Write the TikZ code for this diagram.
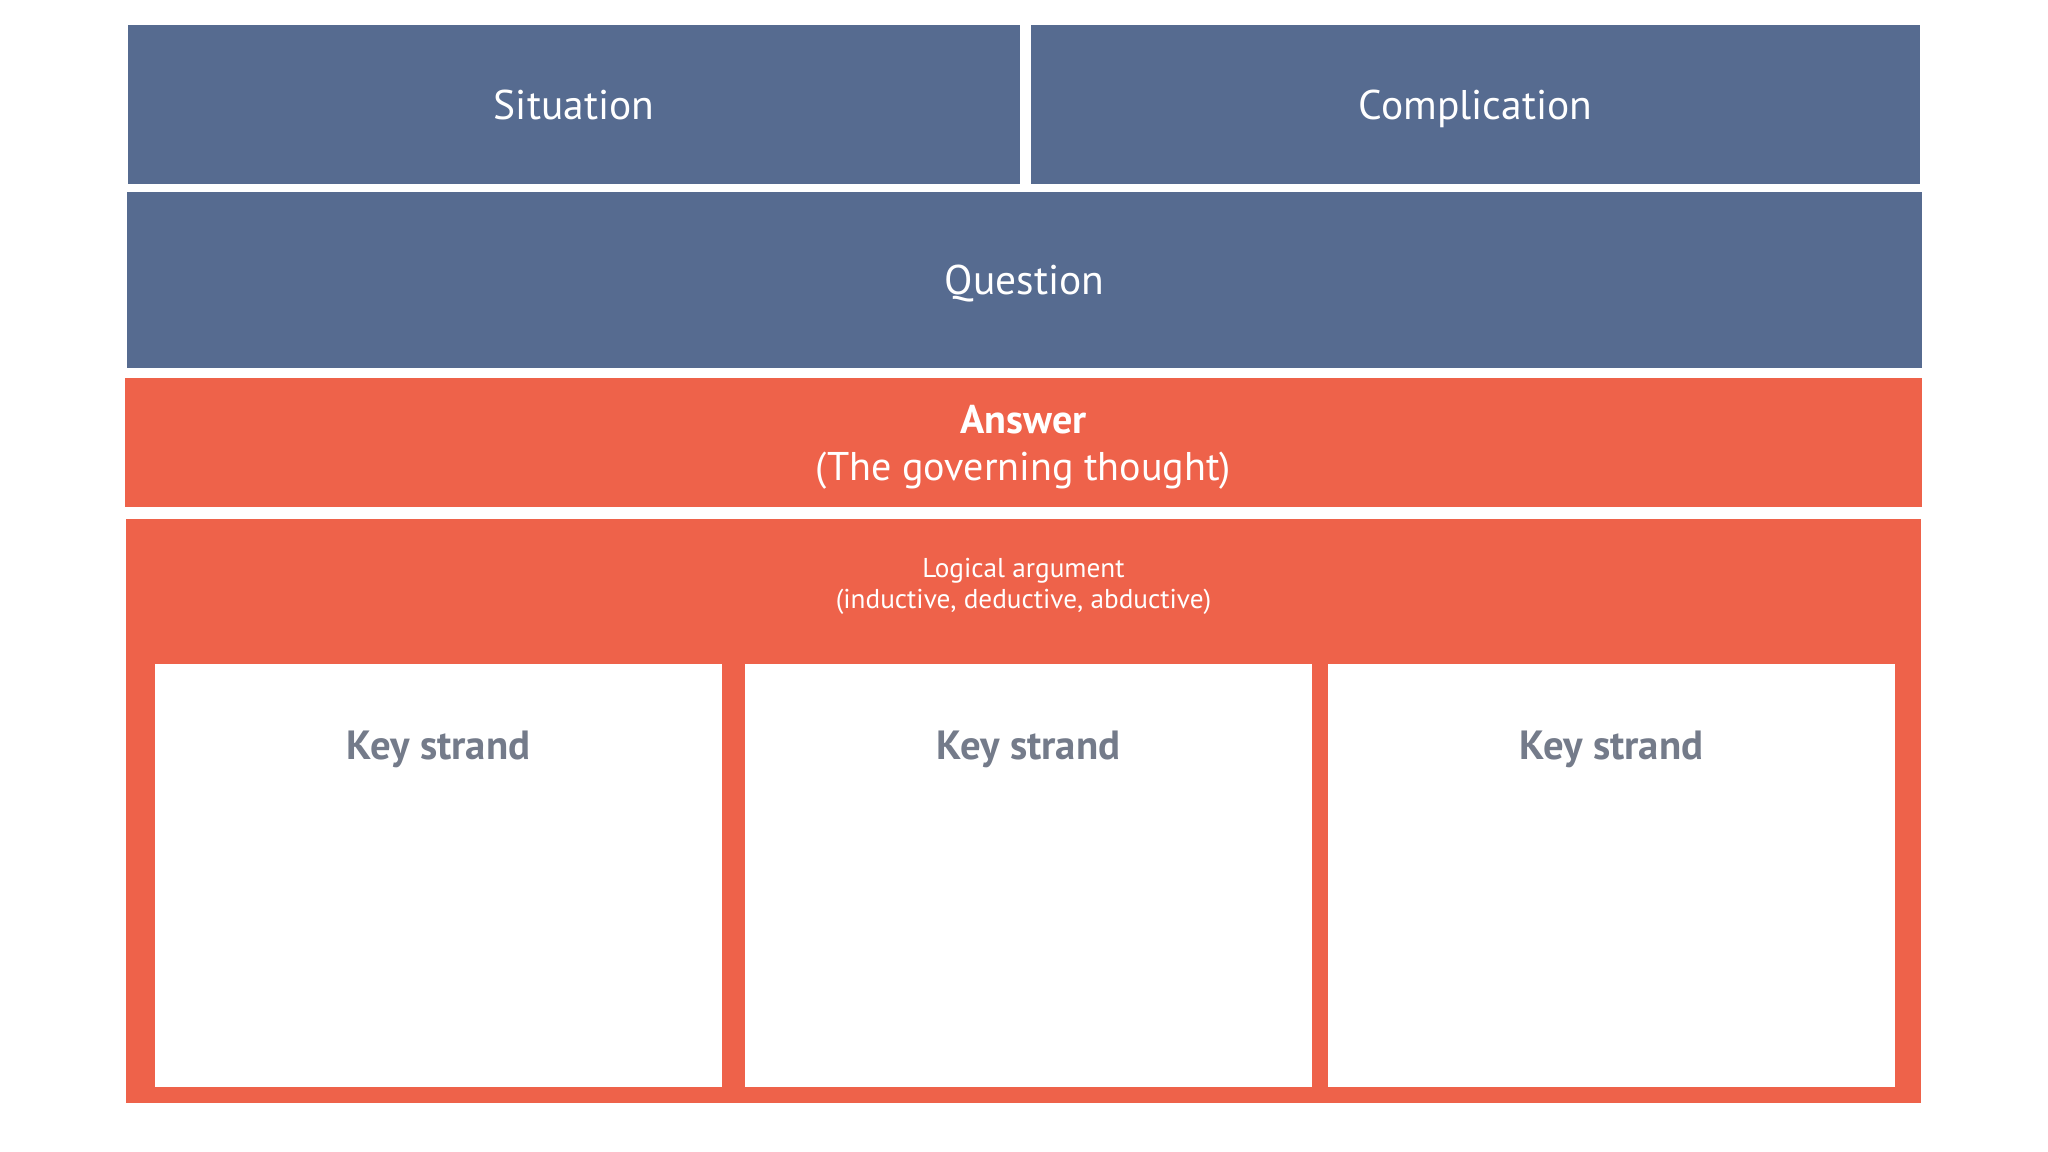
\documentclass[tikz,border=0pt]{standalone}
\usepackage{fontspec}
\setmainfont{PT Sans}
\definecolor{scqblue}{HTML}{566B90}
\definecolor{answerred}{HTML}{EE624A}
\definecolor{strandgrey}{HTML}{747B8A}
\begin{document}
\begin{tikzpicture}
        \fill[white] (0,0) rectangle (20.48,-11.52);
        \useasboundingbox (0,0) rectangle (20.48,-11.52);
        \begin{scope}[every node/.style={rectangle,fill=scqblue,text=white,inner sep=0pt,outer sep=0pt,text height=8.3pt,text depth=0pt,font=\fontsize{11.8}{14}\selectfont}]
          \node[minimum width=8.92cm,minimum height=1.59cm] (S) at (5.74,-1.045) {Situation};
          \node[minimum width=8.89cm,minimum height=1.59cm] (C) at (14.755,-1.045) {Complication};
          \node[minimum width=17.95cm,minimum height=1.76cm] (Q) at (10.245,-2.80) {Question};
        \end{scope}
        \begin{scope}[every node/.style={rectangle,fill=answerred,text=white,inner sep=0pt,outer sep=0pt,align=center}]
          \node[minimum width=17.97cm,minimum height=1.29cm] (A) at (10.235,-4.425) {};
          \node[fill=none,font=\fontsize{11.4}{13.4}\selectfont] (Atext) at (10.235,-4.475) {\textbf{Answer}\\(The governing thought)};
          \node[minimum width=17.95cm,minimum height=5.84cm] (L) at (10.235,-8.11) {};
          \node[fill=none,font=\fontsize{7.75}{8.8}\selectfont] (Ltext) at (10.235,-5.86) {Logical argument\\(inductive, deductive, abductive)};
        \end{scope}
        \begin{scope}[every node/.style={rectangle,fill=white,inner sep=0pt,outer sep=0pt,minimum width=5.67cm,minimum height=4.23cm}]
          \node (K1) at (4.385,-8.755) {};
          \node (K2) at (10.285,-8.755) {};
          \node (K3) at (16.115,-8.755) {};
        \end{scope}
        \begin{scope}[every node/.style={text=strandgrey,font=\fontsize{11.6}{13}\selectfont\bfseries,inner sep=0pt}]
          \node (K1text) at (4.385,-7.49) {Key strand};
          \node (K2text) at (10.285,-7.49) {Key strand};
          \node (K3text) at (16.115,-7.49) {Key strand};
        \end{scope}
\end{tikzpicture}
\end{document}
